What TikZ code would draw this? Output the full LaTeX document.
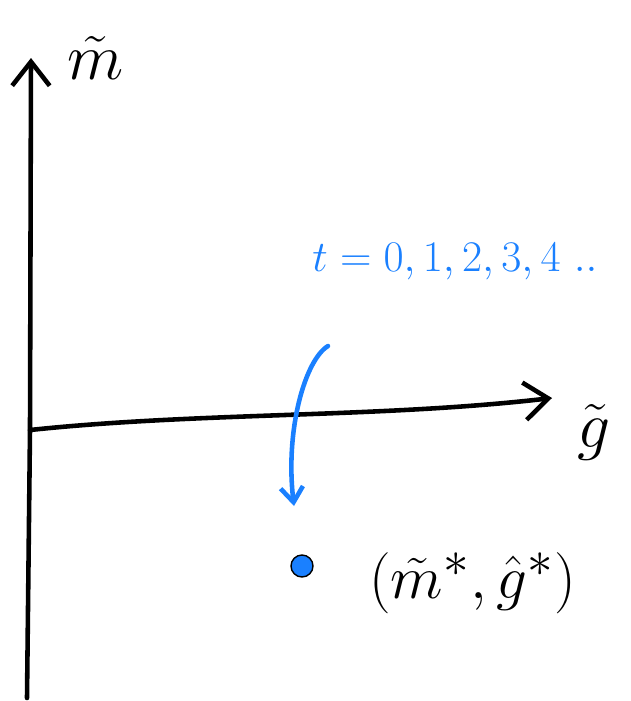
\documentclass[tikz,border=0pt]{standalone}
\usepackage{amsmath,amssymb}
\usepackage{xcolor}
\usetikzlibrary{arrows.meta,positioning,calc}
\definecolor{penblue}{HTML}{1A80FF}

\begin{document}
\begin{tikzpicture}[x=0.02cm, y=-0.02cm,
  axis/.style={line width=2.6pt, line cap=round, line join=round,
    -{Straight Barb[length=0.48cm, width=0.75cm]}},
  bluearr/.style={penblue, line width=2.6pt, line cap=round, line join=round,
    -{Straight Barb[length=0.3cm, width=0.45cm]}},
  lab/.style={font=\Huge, inner sep=0pt},
  dot/.style={circle, fill=penblue, draw=black, line width=0.8pt,
    minimum size=0.44cm, inner sep=0pt}
]
\useasboundingbox (0,0) rectangle (631,701);

% axes
\coordinate (ybot) at (27,698);
\coordinate (origin) at (30,430);
\coordinate (ytop) at (31,58);
\coordinate (xend) at (552,398);
\draw[axis] (ybot) -- (origin) -- (ytop);
\draw[axis] (origin) .. controls (200,412) and (380,418) .. (xend);
\node[lab, scale=1.5] (mlabel) at (96,58) {$\tilde m$};
\node[lab, scale=1.5] (glabel) at (594,432) {$\tilde g$};

% iterates
\node[lab, text=penblue] (tlabel) at (455,262) {$t=0,1,2,3,4\ ..$};
\coordinate (arrstart) at (328,346);
\coordinate (arrend) at (294,506);
\draw[bluearr] (arrstart) .. controls (305,360) and (285,430) .. (arrend);

% fixed point
\node[dot] (fixpt) at (302,566) {};
\node[lab, scale=1.4, right=1.1cm of fixpt, yshift=-0.25cm] (fixlabel) {$(\tilde m^{*},\hat g^{*})$};
\end{tikzpicture}
\end{document}
